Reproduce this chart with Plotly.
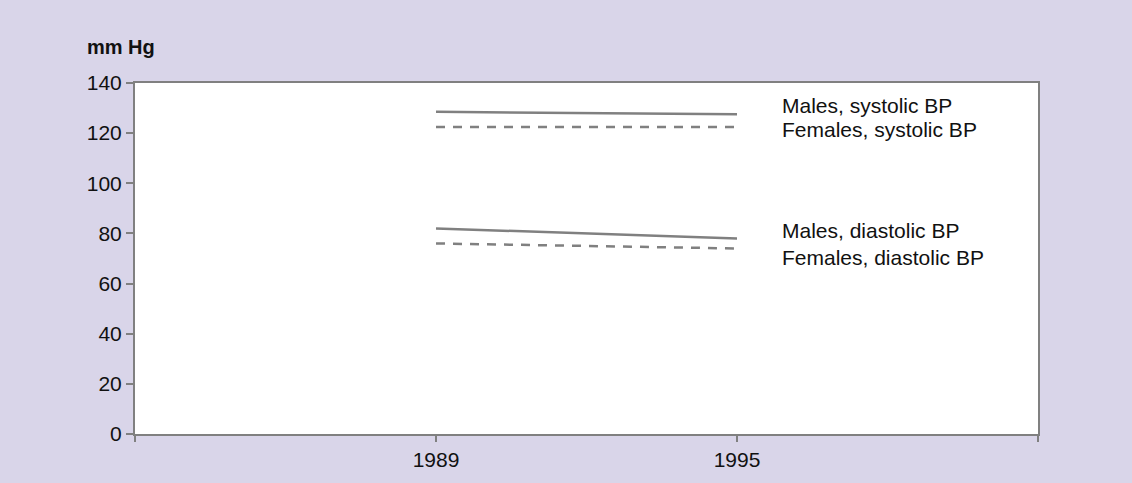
import plotly.graph_objects as go

years = [1989, 1995]
males_systolic = [128.5, 127.5]
females_systolic = [122.5, 122.5]
males_diastolic = [82, 78]
females_diastolic = [76, 74]

series_names = ["Males, systolic BP", "Females, systolic BP",
                "Males, diastolic BP", "Females, diastolic BP"]
series_values = [males_systolic, females_systolic, males_diastolic, females_diastolic]
series_dash = ["solid", "9px,8px", "solid", "9px,8px"]
label_shift = [9, -3, 8, -9]

x_tickvals = [1983, 1989, 1995, 2001]
x_ticktext = ["", "1989", "1995", ""]
y_tickvals = [0, 20, 40, 60, 80, 100, 120, 140]

GRAY = "#808080"
BG = "#d9d5e9"
FONT = "Liberation Sans, Arial, sans-serif"

fig = go.Figure()
for name, vals, dash in zip(series_names, series_values, series_dash):
    fig.add_trace(go.Scatter(x=years, y=vals, mode="lines", name=name,
                             line=dict(color=GRAY, width=2.5, dash=dash),
                             showlegend=False, hoverinfo="skip"))

for name, vals, ys in zip(series_names, series_values, label_shift):
    fig.add_annotation(x=years[-1], y=vals[-1], xref="x", yref="y", text=name,
                       showarrow=False, xanchor="left", yanchor="middle",
                       xshift=43, yshift=ys,
                       font=dict(family=FONT, size=21, color="#111111"))

fig.add_annotation(x=0, y=1, xref="paper", yref="paper", text="<b>mm Hg</b>",
                   showarrow=False, xanchor="left", yanchor="middle",
                   xshift=-50, yshift=36,
                   font=dict(family=FONT, size=20, color="#111111"))

fig.update_layout(
    width=1132, height=483,
    margin=dict(l=135, r=94, t=83, b=46),
    paper_bgcolor=BG, plot_bgcolor="white",
    font=dict(family=FONT, size=21, color="#111111"),
    xaxis=dict(range=[1983, 2001], tickvals=x_tickvals, ticktext=x_ticktext,
               showgrid=False, zeroline=False, showline=True, linecolor=GRAY,
               linewidth=2, mirror=True, ticks="outside", ticklen=6,
               tickcolor=GRAY, tickwidth=2, tickfont=dict(size=21)),
    yaxis=dict(range=[0, 140], tickvals=y_tickvals,
               showgrid=False, zeroline=False, showline=True, linecolor=GRAY,
               linewidth=2, mirror=True, ticks="outside", ticklen=7,
               tickcolor=GRAY, tickwidth=2, tickfont=dict(size=21)),
)

fig.write_html("out.html", config={"displayModeBar": False},
               post_script="document.body.style.margin='0';document.body.style.overflow='hidden';")
